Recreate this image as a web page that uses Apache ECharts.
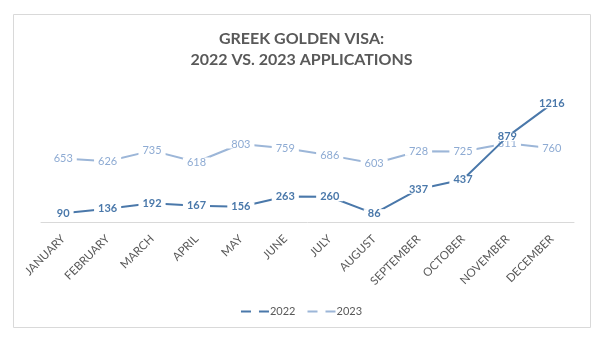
<!DOCTYPE html>
<html>
<head>
<meta charset="utf-8">
<script src="https://cdn.jsdelivr.net/npm/echarts@6/dist/echarts.min.js"></script>
<style>
  html, body { margin: 0; padding: 0; background: #fff; }
  #chart { width: 603px; height: 340px; }
</style>
</head>
<body>
<div id="chart"></div>
<script>
// Monthly golden visa applications, 2022 vs 2023
const months = ['JANUARY', 'FEBRUARY', 'MARCH', 'APRIL', 'MAY', 'JUNE', 'JULY',
  'AUGUST', 'SEPTEMBER', 'OCTOBER', 'NOVEMBER', 'DECEMBER'];
const apps2022 = [90, 136, 192, 167, 156, 263, 260, 86, 337, 437, 879, 1216];
const apps2023 = [653, 626, 735, 618, 803, 759, 686, 603, 728, 725, 811, 760];
const seriesNames = ['2022', '2023'];

const FONT = 'Lato, "Open Sans", sans-serif';
const C2022 = '#4a78aa';
const C2023 = '#9cb6d8';
// legend key: a line broken in the middle
const legendIcon = 'path://M0,0h10v2h-10z M18,0h10v2h-10z';

const chart = echarts.init(document.getElementById('chart'), null, { renderer: 'canvas' });

function labelCfg(color, bold) {
  return {
    show: true,
    position: 'inside',
    color: color,
    fontFamily: FONT,
    fontSize: 11,
    lineHeight: 9,
    fontWeight: bold ? 'bold' : 'normal',
    backgroundColor: '#fff',
    padding: [0, 4]
  };
}

chart.setOption({
  animation: false,
  graphic: [{
    type: 'rect',
    shape: { x: 13.5, y: 14.5, width: 577, height: 313 },
    style: { fill: 'none', stroke: '#d9d9d9', lineWidth: 1 },
    silent: true
  }],
  title: {
    text: 'GREEK GOLDEN VISA:\n2022 VS. 2023 APPLICATIONS',
    left: 'center',
    top: 23,
    textStyle: {
      fontFamily: FONT,
      fontSize: 16,
      fontWeight: 'bold',
      color: '#595959',
      lineHeight: 21
    }
  },
  legend: {
    top: 301,
    left: 'center',
    itemWidth: 28,
    itemHeight: 2,
    itemGap: 12,
    data: [
      { name: seriesNames[0], icon: legendIcon, itemStyle: { color: C2022, opacity: 1 } },
      { name: seriesNames[1], icon: legendIcon, itemStyle: { color: C2023, opacity: 1 } }
    ],
    textStyle: { fontFamily: FONT, fontSize: 11, color: '#595959', padding: [0, 0, 0, -4] }
  },
  grid: { left: 41, right: 29, top: 86, bottom: 118 },
  xAxis: {
    type: 'category',
    data: months,
    boundaryGap: true,
    axisLine: { lineStyle: { color: '#d9d9d9' } },
    axisTick: { show: false },
    axisLabel: {
      rotate: 45,
      interval: 0,
      margin: 15,
      color: '#595959',
      fontFamily: FONT,
      fontSize: 11.5
    }
  },
  yAxis: {
    type: 'value',
    min: 0,
    max: 1400,
    show: false,
    splitLine: { show: false }
  },
  series: [
    {
      name: seriesNames[1],
      type: 'line',
      data: apps2023,
      z: 2,
      symbol: 'circle',
      symbolSize: 0.1,
      itemStyle: { color: C2023 },
      lineStyle: { color: C2023, width: 2 },
      label: labelCfg('#8eabd3', false)
    },
    {
      name: seriesNames[0],
      type: 'line',
      data: apps2022,
      z: 3,
      symbol: 'circle',
      symbolSize: 0.1,
      itemStyle: { color: C2022 },
      lineStyle: { color: C2022, width: 2 },
      label: labelCfg(C2022, true)
    }
  ]
});
</script>
</body>
</html>
